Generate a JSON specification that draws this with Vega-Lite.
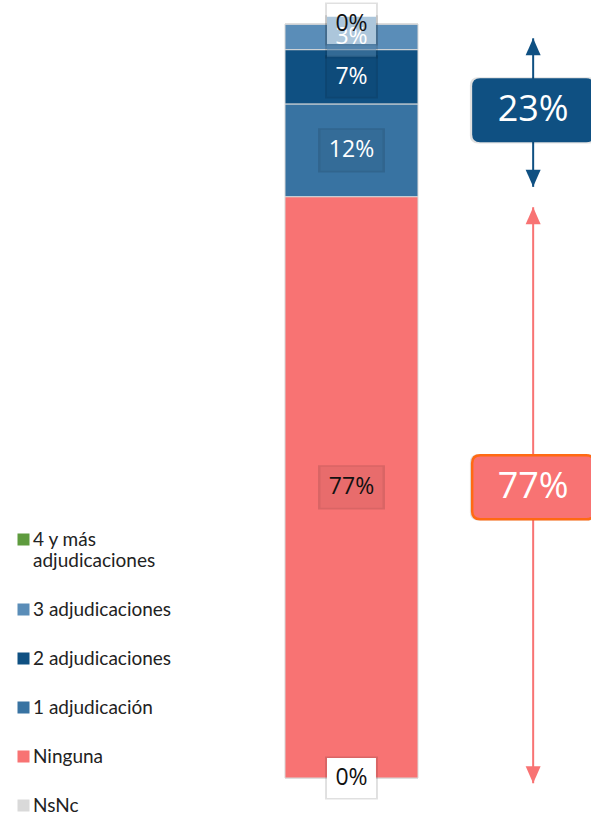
{
  "$schema": "https://vega.github.io/schema/vega-lite/v6.json",
  "width": 545,
  "height": 754,
  "autosize": {"type": "none"},
  "padding": {"left": 0, "right": 46, "top": 24, "bottom": 37},
  "background": "white",
  "config": {"view": {"stroke": null}, "font": "Open Sans"},
  "datasets": {
    "segmentos": [
      {"respuesta": "NsNc", "porcentaje": 0, "orden": 1},
      {"respuesta": "Ninguna", "porcentaje": 0.771, "orden": 2},
      {"respuesta": "1 adjudicación", "porcentaje": 0.123, "orden": 3},
      {"respuesta": "2 adjudicaciones", "porcentaje": 0.072, "orden": 4},
      {"respuesta": "3 adjudicaciones", "porcentaje": 0.034, "orden": 5},
      {"respuesta": "4 y más adjudicaciones", "porcentaje": 0, "orden": 6}
    ],
    "resumen": [
      {"respuesta": "Ninguna", "porcentaje": 0.771, "orden": 1},
      {"respuesta": "Alguna adjudicación", "porcentaje": 0.229, "orden": 2}
    ],
    "flechas": [
      {"respuesta": "Alguna adjudicación", "superior": 0.981, "inferior": 0.784},
      {"respuesta": "Ninguna", "superior": 0.757, "inferior": -0.007}
    ]
  },
  "layer": [
    {
      "data": {"name": "segmentos"},
      "mark": {"type": "bar", "width": 133, "stroke": "#D9D9D9", "strokeWidth": 1},
      "encoding": {
        "x": {"datum": "Total", "type": "nominal", "axis": null, "scale": {"type": "point", "domain": ["Total", "Resumen"], "padding": 1, "align": 0.9674}},
        "y": {"field": "porcentaje", "type": "quantitative", "stack": "zero", "axis": null, "scale": {"domain": [0, 1], "nice": false, "zero": true}},
        "order": {"field": "orden", "type": "quantitative"},
        "color": {
          "field": "respuesta", "type": "nominal",
          "scale": {"domain": ["4 y más adjudicaciones", "3 adjudicaciones", "2 adjudicaciones", "1 adjudicación", "Ninguna", "NsNc", "Alguna adjudicación"], "range": ["#5E9B3E", "#5A8DB8", "#0F5082", "#3873A2", "#F87373", "#D9D9D9", "#0F5082"]},
          "legend": {
            "title": null, "orient": "none", "legendX": 14, "legendY": 506, "padding": 0, "direction": "vertical",
            "values": ["4 y más adjudicaciones", "3 adjudicaciones", "2 adjudicaciones", "1 adjudicación", "Ninguna", "NsNc"],
            "symbolType": "square", "symbolSize": 144, "symbolStrokeWidth": 0,
            "labelFont": "Lato", "labelFontSize": 19, "labelColor": "#222222", "labelOffset": 0, "labelLimit": 300, "labelBaseline": "middle",
            "labelExpr": "datum.label == '4 y más adjudicaciones' ? ['4 y más', 'adjudicaciones'] : datum.label",
            "rowPadding": 29, "clipHeight": 19
          }
        }
      }
    },
    {
      "data": {"name": "segmentos"},
      "transform": [
        {"stack": "porcentaje", "groupby": [], "sort": [{"field": "orden", "order": "ascending"}], "as": ["ini", "fin"]},
        {"calculate": "(datum.ini + datum.fin) / 2", "as": "centro"}
      ],
      "mark": {"type": "point", "filled": true, "opacity": 0.12, "color": "black", "size": 4484, "strokeWidth": 0},
      "encoding": {
        "x": {"datum": "Total", "type": "nominal", "axis": null, "scale": {"type": "point", "domain": ["Total", "Resumen"], "padding": 1, "align": 0.9674}},
        "y": {"field": "centro", "type": "quantitative", "axis": null, "scale": {"domain": [0, 1], "nice": false, "zero": true}},
        "shape": {"condition": {"test": "datum.porcentaje >= 0.095", "value": "M-1,-0.661L1,-0.661L1,0.661L-1,0.661Z"}, "value": "M-0.79,-0.645L0.79,-0.645L0.79,0.645L-0.79,0.645Z"}
      }
    },
    {
      "data": {"name": "segmentos"},
      "transform": [
        {"stack": "porcentaje", "groupby": [], "sort": [{"field": "orden", "order": "ascending"}], "as": ["ini", "fin"]},
        {"calculate": "(datum.ini + datum.fin) / 2", "as": "centro"},
        {"filter": "datum.porcentaje == 0"}
      ],
      "mark": {"type": "point", "filled": true, "opacity": 1, "color": "white", "size": 3844, "strokeWidth": 0, "shape": "M-0.79,-0.645L0.79,-0.645L0.79,0.645L-0.79,0.645Z"},
      "encoding": {
        "x": {"datum": "Total", "type": "nominal", "axis": null, "scale": {"type": "point", "domain": ["Total", "Resumen"], "padding": 1, "align": 0.9674}},
        "y": {"field": "centro", "type": "quantitative", "axis": null, "scale": {"domain": [0, 1], "nice": false, "zero": true}}
      }
    },
    {
      "data": {"name": "segmentos"},
      "transform": [
        {"stack": "porcentaje", "groupby": [], "sort": [{"field": "orden", "order": "ascending"}], "as": ["ini", "fin"]},
        {"calculate": "(datum.ini + datum.fin) / 2", "as": "centro"},
        {"filter": "datum.porcentaje > 0"}
      ],
      "mark": {"type": "point", "filled": true, "opacity": 0.5, "size": 3844, "strokeWidth": 0},
      "encoding": {
        "x": {"datum": "Total", "type": "nominal", "axis": null, "scale": {"type": "point", "domain": ["Total", "Resumen"], "padding": 1, "align": 0.9674}},
        "y": {"field": "centro", "type": "quantitative", "axis": null, "scale": {"domain": [0, 1], "nice": false, "zero": true}},
        "shape": {"condition": {"test": "datum.porcentaje >= 0.095", "value": "M-1,-0.661L1,-0.661L1,0.661L-1,0.661Z"}, "value": "M-0.79,-0.645L0.79,-0.645L0.79,0.645L-0.79,0.645Z"},
        "color": {
          "field": "respuesta", "type": "nominal", "legend": null,
          "scale": {"domain": ["4 y más adjudicaciones", "3 adjudicaciones", "2 adjudicaciones", "1 adjudicación", "Ninguna", "NsNc", "Alguna adjudicación"], "range": ["#5E9B3E", "#5A8DB8", "#0F5082", "#3873A2", "#F87373", "#D9D9D9", "#0F5082"]}
        }
      }
    },
    {
      "data": {"name": "segmentos"},
      "transform": [
        {"stack": "porcentaje", "groupby": [], "sort": [{"field": "orden", "order": "ascending"}], "as": ["ini", "fin"]},
        {"calculate": "(datum.ini + datum.fin) / 2", "as": "centro"},
        {"filter": "datum.porcentaje > 0"}
      ],
      "mark": {"type": "text", "font": "Open Sans", "fontSize": 23, "align": "center", "baseline": "middle"},
      "encoding": {
        "x": {"datum": "Total", "type": "nominal", "axis": null, "scale": {"type": "point", "domain": ["Total", "Resumen"], "padding": 1, "align": 0.9674}},
        "y": {"field": "centro", "type": "quantitative", "axis": null, "scale": {"domain": [0, 1], "nice": false, "zero": true}},
        "text": {"field": "porcentaje", "type": "quantitative", "format": ".0%"},
        "color": {"condition": {"test": "datum.respuesta == 'Ninguna'", "value": "#111111"}, "value": "#FFFFFF"}
      }
    },
    {
      "data": {"name": "segmentos"},
      "transform": [
        {"stack": "porcentaje", "groupby": [], "sort": [{"field": "orden", "order": "ascending"}], "as": ["ini", "fin"]},
        {"calculate": "(datum.ini + datum.fin) / 2", "as": "centro"},
        {"filter": "datum.porcentaje == 0"}
      ],
      "mark": {"type": "text", "font": "Open Sans", "fontSize": 23, "align": "center", "baseline": "middle", "color": "#111111"},
      "encoding": {
        "x": {"datum": "Total", "type": "nominal", "axis": null, "scale": {"type": "point", "domain": ["Total", "Resumen"], "padding": 1, "align": 0.9674}},
        "y": {"field": "centro", "type": "quantitative", "axis": null, "scale": {"domain": [0, 1], "nice": false, "zero": true}},
        "text": {"field": "porcentaje", "type": "quantitative", "format": ".0%"}
      }
    },
    {
      "data": {"name": "flechas"},
      "mark": {"type": "rule", "strokeWidth": 2},
      "encoding": {
        "x": {"datum": "Resumen", "type": "nominal", "axis": null, "scale": {"type": "point", "domain": ["Total", "Resumen"], "padding": 1, "align": 0.9674}},
        "y": {"field": "superior", "type": "quantitative", "axis": null, "scale": {"domain": [0, 1], "nice": false, "zero": true}},
        "y2": {"field": "inferior"},
        "color": {
          "field": "respuesta", "type": "nominal", "legend": null,
          "scale": {"domain": ["4 y más adjudicaciones", "3 adjudicaciones", "2 adjudicaciones", "1 adjudicación", "Ninguna", "NsNc", "Alguna adjudicación"], "range": ["#5E9B3E", "#5A8DB8", "#0F5082", "#3873A2", "#F87373", "#D9D9D9", "#0F5082"]}
        }
      }
    },
    {
      "data": {"name": "flechas"},
      "mark": {"type": "point", "filled": true, "opacity": 1, "size": 400, "strokeWidth": 0, "shape": "M0,0L0.75,1.7L-0.75,1.7Z"},
      "encoding": {
        "x": {"datum": "Resumen", "type": "nominal", "axis": null, "scale": {"type": "point", "domain": ["Total", "Resumen"], "padding": 1, "align": 0.9674}},
        "y": {"field": "superior", "type": "quantitative", "axis": null, "scale": {"domain": [0, 1], "nice": false, "zero": true}},
        "color": {
          "field": "respuesta", "type": "nominal", "legend": null,
          "scale": {"domain": ["4 y más adjudicaciones", "3 adjudicaciones", "2 adjudicaciones", "1 adjudicación", "Ninguna", "NsNc", "Alguna adjudicación"], "range": ["#5E9B3E", "#5A8DB8", "#0F5082", "#3873A2", "#F87373", "#D9D9D9", "#0F5082"]}
        }
      }
    },
    {
      "data": {"name": "flechas"},
      "mark": {"type": "point", "filled": true, "opacity": 1, "size": 400, "strokeWidth": 0, "shape": "M0,0L0.75,-1.7L-0.75,-1.7Z"},
      "encoding": {
        "x": {"datum": "Resumen", "type": "nominal", "axis": null, "scale": {"type": "point", "domain": ["Total", "Resumen"], "padding": 1, "align": 0.9674}},
        "y": {"field": "inferior", "type": "quantitative", "axis": null, "scale": {"domain": [0, 1], "nice": false, "zero": true}},
        "color": {
          "field": "respuesta", "type": "nominal", "legend": null,
          "scale": {"domain": ["4 y más adjudicaciones", "3 adjudicaciones", "2 adjudicaciones", "1 adjudicación", "Ninguna", "NsNc", "Alguna adjudicación"], "range": ["#5E9B3E", "#5A8DB8", "#0F5082", "#3873A2", "#F87373", "#D9D9D9", "#0F5082"]}
        }
      }
    },
    {
      "data": {"name": "resumen"},
      "transform": [
        {"stack": "porcentaje", "groupby": [], "sort": [{"field": "orden", "order": "ascending"}], "as": ["ini", "fin"]},
        {"calculate": "(datum.ini + datum.fin) / 2", "as": "centro"}
      ],
      "mark": {"type": "point", "filled": true, "opacity": 0.12, "color": "black", "size": 16000, "strokeWidth": 0, "shape": "M-0.869,-0.525L0.869,-0.525Q1,-0.525 1,-0.394L1,0.394Q1,0.525 0.869,0.525L-0.869,0.525Q-1,0.525 -1,0.394L-1,-0.394Q-1,-0.525 -0.869,-0.525Z"},
      "encoding": {
        "x": {"datum": "Resumen", "type": "nominal", "axis": null, "scale": {"type": "point", "domain": ["Total", "Resumen"], "padding": 1, "align": 0.9674}},
        "y": {"field": "centro", "type": "quantitative", "axis": null, "scale": {"domain": [0, 1], "nice": false, "zero": true}}
      }
    },
    {
      "data": {"name": "resumen"},
      "transform": [
        {"stack": "porcentaje", "groupby": [], "sort": [{"field": "orden", "order": "ascending"}], "as": ["ini", "fin"]},
        {"calculate": "(datum.ini + datum.fin) / 2", "as": "centro"}
      ],
      "mark": {"type": "point", "filled": true, "opacity": 1, "size": 14884, "stroke": "#FF6A13", "shape": "M-0.869,-0.525L0.869,-0.525Q1,-0.525 1,-0.394L1,0.394Q1,0.525 0.869,0.525L-0.869,0.525Q-1,0.525 -1,0.394L-1,-0.394Q-1,-0.525 -0.869,-0.525Z"},
      "encoding": {
        "x": {"datum": "Resumen", "type": "nominal", "axis": null, "scale": {"type": "point", "domain": ["Total", "Resumen"], "padding": 1, "align": 0.9674}},
        "y": {"field": "centro", "type": "quantitative", "axis": null, "scale": {"domain": [0, 1], "nice": false, "zero": true}},
        "strokeWidth": {"condition": {"test": "datum.respuesta == 'Ninguna'", "value": 2.5}, "value": 0},
        "color": {
          "field": "respuesta", "type": "nominal", "legend": null,
          "scale": {"domain": ["4 y más adjudicaciones", "3 adjudicaciones", "2 adjudicaciones", "1 adjudicación", "Ninguna", "NsNc", "Alguna adjudicación"], "range": ["#5E9B3E", "#5A8DB8", "#0F5082", "#3873A2", "#F87373", "#D9D9D9", "#0F5082"]}
        }
      }
    },
    {
      "data": {"name": "resumen"},
      "transform": [
        {"stack": "porcentaje", "groupby": [], "sort": [{"field": "orden", "order": "ascending"}], "as": ["ini", "fin"]},
        {"calculate": "(datum.ini + datum.fin) / 2", "as": "centro"}
      ],
      "mark": {"type": "text", "font": "Open Sans", "fontSize": 36, "align": "center", "baseline": "middle", "color": "#FFFFFF"},
      "encoding": {
        "x": {"datum": "Resumen", "type": "nominal", "axis": null, "scale": {"type": "point", "domain": ["Total", "Resumen"], "padding": 1, "align": 0.9674}},
        "y": {"field": "centro", "type": "quantitative", "axis": null, "scale": {"domain": [0, 1], "nice": false, "zero": true}},
        "text": {"field": "porcentaje", "type": "quantitative", "format": ".0%"}
      }
    }
  ]
}
